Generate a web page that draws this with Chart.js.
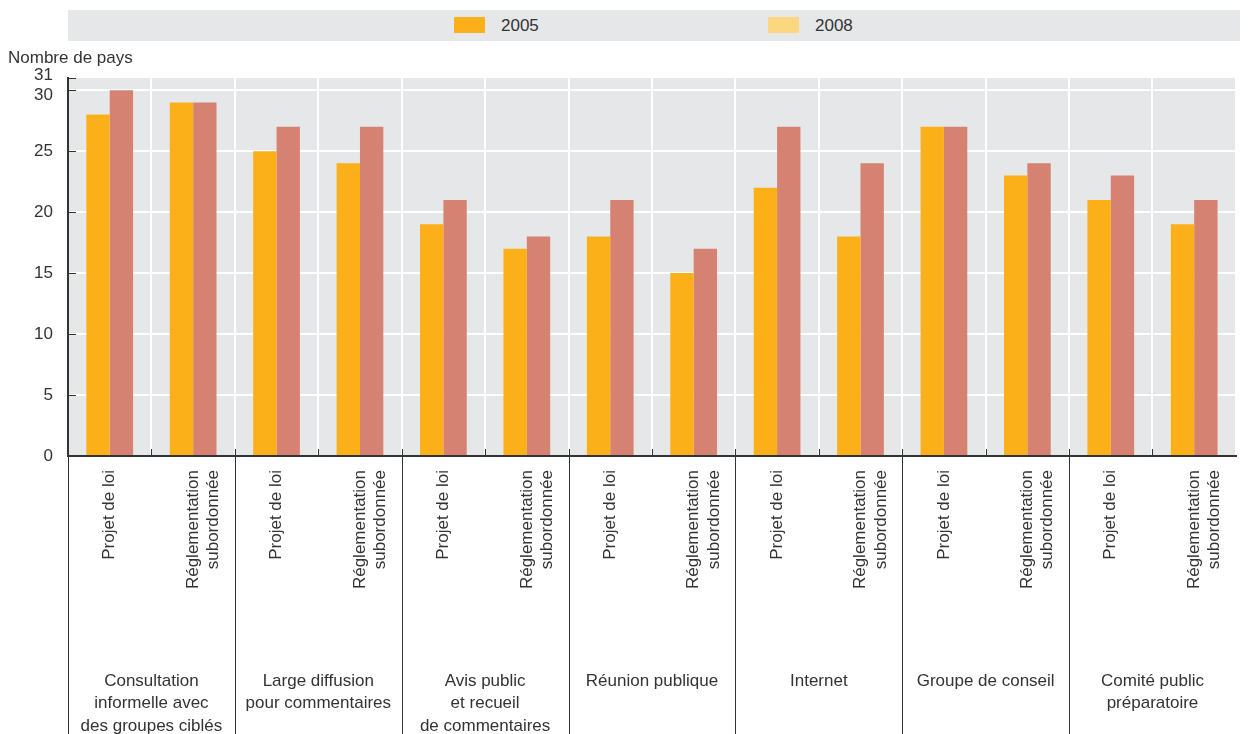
<!DOCTYPE html>
<html>
<head>
<meta charset="utf-8">
<script src="https://cdn.jsdelivr.net/npm/chart.js@4.4.7/dist/chart.umd.min.js"></script>
<style>
  html, body { margin: 0; padding: 0; background: #fff; }
  #wrap { position: relative; width: 1249px; height: 734px; }
  #legend { position: absolute; left: 68px; top: 10px; width: 1172px; height: 31px; background: #e6e7e8;
    font-family: "Liberation Sans", sans-serif; font-size: 17px; color: #333; }
  .item { position: absolute; top: 0; height: 31px; line-height: 31px; }
  .sw { position: absolute; top: 7px; width: 31px; height: 16px; }
  .lbl { position: absolute; left: 47px; white-space: nowrap; }
  #ytitle { position: absolute; left: 8px; top: 48px; font-family: "Liberation Sans", sans-serif;
    font-size: 17px; color: #333; white-space: nowrap; }
</style>
</head>
<body>
<div id="wrap">
  <canvas id="chart"></canvas>
  <div id="legend">
    <div class="item" style="left:386px"><div class="sw" style="background:#fbaf18"></div><span class="lbl">2005</span></div>
    <div class="item" style="left:700px"><div class="sw" style="background:#fdd77f"></div><span class="lbl">2008</span></div>
  </div>
  <div id="ytitle">Nombre de pays</div>
</div>
<script>
const FONT = "'Liberation Sans', sans-serif";

const categories = [
    ["Projet de loi"], ["Réglementation", "subordonnée"],
    ["Projet de loi"], ["Réglementation", "subordonnée"],
    ["Projet de loi"], ["Réglementation", "subordonnée"],
    ["Projet de loi"], ["Réglementation", "subordonnée"],
    ["Projet de loi"], ["Réglementation", "subordonnée"],
    ["Projet de loi"], ["Réglementation", "subordonnée"],
    ["Projet de loi"], ["Réglementation", "subordonnée"],
];
const groups = [
    ["Consultation", "informelle avec", "des groupes ciblés"],
    ["Large diffusion", "pour commentaires"],
    ["Avis public", "et recueil", "de commentaires"],
    ["Réunion publique"],
    ["Internet"],
    ["Groupe de conseil"],
    ["Comité public", "préparatoire"],
];
const values2005 = [28, 29, 25, 24, 19, 17, 18, 15, 22, 18, 27, 23, 21, 19];
const values2008 = [30, 29, 27, 27, 21, 18, 21, 17, 27, 24, 27, 24, 23, 21];
const yTicks = [0, 5, 10, 15, 20, 25, 30, 31];

// gray plot background, y labels, inner tick marks, group separators and group labels
const decorPlugin = {
    id: "decor",
    beforeDraw(chart) {
        const { ctx, chartArea: a } = chart;
        ctx.save();
        ctx.fillStyle = "#e6e7e8";
        ctx.fillRect(a.left, a.top, a.right - a.left, a.bottom - a.top);
        ctx.restore();
    },
    afterDraw(chart) {
        const { ctx, chartArea: a } = chart;
        const x = chart.scales.x, y = chart.scales.y;
        ctx.save();
        ctx.strokeStyle = "#333";
        ctx.lineWidth = 1;
        ctx.fillStyle = "#333";
        ctx.font = "17px " + FONT;
        ctx.textAlign = "right";
        ctx.textBaseline = "middle";
        // y tick marks inside the plot + labels (30 and 31 nudged apart)
        yTicks.forEach(v => {
            const py = Math.round(y.getPixelForValue(v)) + 0.5;
            ctx.beginPath();
            ctx.moveTo(a.left, py);
            ctx.lineTo(a.left + 8, py);
            ctx.stroke();
            const nudge = v === 31 ? -3 : v === 30 ? 5 : 0;
            ctx.fillText(String(v), 53, py + nudge);
        });
        // boundaries between categories
        for (let i = 0; i < categories.length; i++) {
            const px = Math.round(i === 0 ? a.left : (x.getPixelForValue(i - 1) + x.getPixelForValue(i)) / 2) + 0.5;
            ctx.beginPath();
            ctx.moveTo(px, a.bottom - 7);
            ctx.lineTo(px, i % 2 === 0 ? chart.height : a.bottom);
            ctx.stroke();
        }
        // group labels
        ctx.textAlign = "center";
        groups.forEach((lines, g) => {
            const cx = (x.getPixelForValue(2 * g) + x.getPixelForValue(2 * g + 1)) / 2;
            lines.forEach((t, k) => ctx.fillText(t, cx, 681 + k * 22.5));
        });
        ctx.restore();
    }
};

new Chart(document.getElementById("chart"), {
    type: "bar",
    data: {
        labels: categories,
        datasets: [
            { label: "2005", data: values2005, backgroundColor: "#fbaf18", borderWidth: 0 },
            { label: "2008", data: values2008, backgroundColor: "#d58272", borderWidth: 0 },
        ],
    },
    options: {
        responsive: true,
        maintainAspectRatio: false,
        animation: false,
        categoryPercentage: 0.56,
        barPercentage: 1,
        layout: { padding: { top: 78, right: 0, left: 0, bottom: 0 } },
        plugins: { legend: { display: false }, tooltip: { enabled: false } },
        scales: {
            x: {
                grid: { color: "#ffffff", lineWidth: 2, drawTicks: false, offset: true },
                border: { color: "#333", width: 2 },
                ticks: {
                    color: "#333", font: { family: FONT, size: 17 },
                    minRotation: 90, maxRotation: 90, autoSkip: false, padding: 14,
                },
                afterFit(scale) { scale.height = 278; },
            },
            y: {
                min: 0, max: 31,
                afterBuildTicks(scale) { scale.ticks = yTicks.map(v => ({ value: v })); },
                grid: {
                    color: ctx => (ctx.tick && ctx.tick.value > 0 && ctx.tick.value < 31 ? "#ffffff" : "rgba(0,0,0,0)"),
                    lineWidth: 2, drawTicks: false,
                },
                border: { color: "#333", width: 2 },
                ticks: { display: false },
                afterFit(scale) { scale.width = 68; },
            },
        },
    },
    plugins: [decorPlugin],
});
</script>
</body>
</html>
